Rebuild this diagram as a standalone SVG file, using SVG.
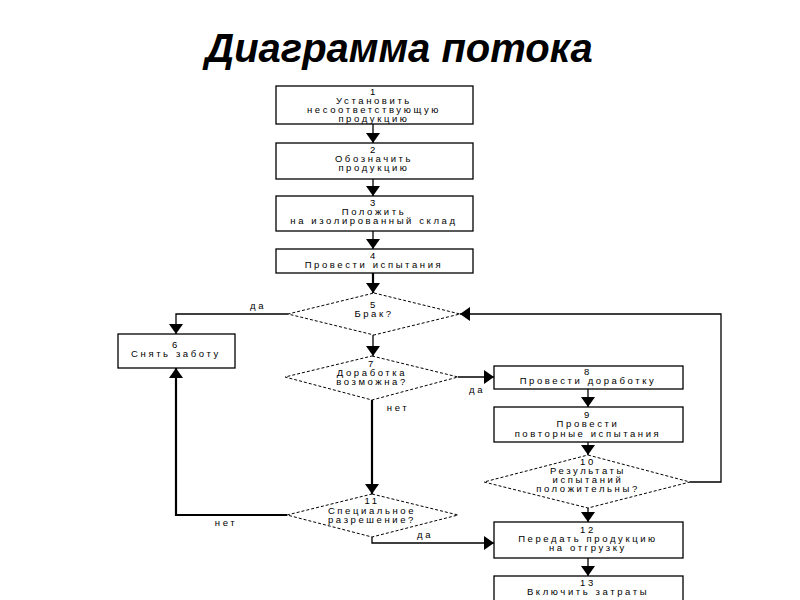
<svg xmlns="http://www.w3.org/2000/svg" width="800" height="600" viewBox="0 0 800 600">
<style>
.title{font-family:"Liberation Sans",Arial,sans-serif;font-weight:bold;font-style:italic;font-size:40px;fill:#000}
.t{font-family:"Liberation Sans",Arial,sans-serif;font-size:9.5px;letter-spacing:2.6px;fill:#000;text-anchor:middle}
.box{fill:#fff;stroke:#000;stroke-width:1.3}
.dia{fill:#fff;stroke:#000;stroke-width:1;stroke-dasharray:3,2}
.c{fill:none;stroke:#000;stroke-width:1.3}
.thick{stroke-width:2.2}
</style>
<defs>
<marker id="ah" viewBox="0 0 10 14" refX="10" refY="7" markerWidth="10" markerHeight="14" markerUnits="userSpaceOnUse" orient="auto">
<path d="M0,0 L10,7 L0,14 Z" fill="#000"/>
</marker>
</defs>
<rect width="800" height="600" fill="#fff"/>
<text class="title" x="399" y="62" text-anchor="middle">Диаграмма потока</text>

<g id="connectors">
<path class="c" d="M373,124 V143" marker-end="url(#ah)"/>
<path class="c" d="M373,179 V196" marker-end="url(#ah)"/>
<path class="c" d="M373,231 V249" marker-end="url(#ah)"/>
<path class="c thick" d="M373,273 V293" marker-end="url(#ah)"/>
<path class="c" d="M288,314 H176 V334" marker-end="url(#ah)"/>
<path class="c" d="M373,335 V356" marker-end="url(#ah)"/>
<path class="c" d="M458,377 H494" marker-end="url(#ah)"/>
<path class="c thick" d="M372,400 V494" marker-end="url(#ah)"/>
<path class="c" d="M588,389 V407" marker-end="url(#ah)"/>
<path class="c" d="M588,442 V455" marker-end="url(#ah)"/>
<path class="c" d="M690,482 H721 V314 H460" marker-end="url(#ah)"/>
<path class="c thick" d="M287,515 H176 V368" marker-end="url(#ah)"/>
<path class="c" d="M372,537 V543 H494" marker-end="url(#ah)"/>
<path class="c" d="M588,508 V522" marker-end="url(#ah)"/>
<path class="c" d="M588,558 V576" marker-end="url(#ah)"/>
<text class="t" x="258" y="309">да</text>
<text class="t" x="477" y="393">да</text>
<text class="t" x="398" y="411">нет</text>
<text class="t" x="226" y="526">нет</text>
<text class="t" x="425" y="538">да</text>
</g>

<g id="n1"><rect class="box" x="276" y="86" width="197" height="38"/>
<text class="t" x="374" y="95">1</text><text class="t" x="374" y="104">Установить</text><text class="t" x="374" y="113">несоответствующую</text><text class="t" x="374" y="122">продукцию</text></g>
<g id="n2"><rect class="box" x="276" y="143" width="197" height="36"/>
<text class="t" x="374" y="153">2</text><text class="t" x="374" y="162">Обозначить</text><text class="t" x="374" y="171">продукцию</text></g>
<g id="n3"><rect class="box" x="276" y="196" width="197" height="35"/>
<text class="t" x="374" y="206">3</text><text class="t" x="374" y="215">Положить</text><text class="t" x="374" y="224">на изолированный склад</text></g>
<g id="n4"><rect class="box" x="276" y="249" width="197" height="24"/>
<text class="t" x="374" y="259">4</text><text class="t" x="374" y="268">Провести испытания</text></g>
<g id="n5"><polygon class="dia" points="374,293 460,314 374,335 288,314"/>
<text class="t" x="374" y="308">5</text><text class="t" x="374" y="317">Брак?</text></g>
<g id="n6"><rect class="box" x="118" y="334" width="117" height="34"/>
<text class="t" x="176" y="348">6</text><text class="t" x="176" y="357">Снять заботу</text></g>
<g id="n7"><polygon class="dia" points="372,356 458,377 372,400 285,377"/>
<text class="t" x="372" y="367">7</text><text class="t" x="372" y="376">Доработка</text><text class="t" x="372" y="385">возможна?</text></g>
<g id="n8"><rect class="box" x="494" y="366" width="189" height="23"/>
<text class="t" x="588" y="375">8</text><text class="t" x="588" y="384">Провести доработку</text></g>
<g id="n9"><rect class="box" x="494" y="407" width="189" height="35"/>
<text class="t" x="588" y="418">9</text><text class="t" x="588" y="427">Провести</text><text class="t" x="588" y="437">повторные испытания</text></g>
<g id="n10"><polygon class="dia" points="588,455 690,482 588,508 484,482"/>
<text class="t" x="588" y="465">10</text><text class="t" x="588" y="474">Результаты</text><text class="t" x="588" y="483">испытаний</text><text class="t" x="588" y="492">положительны?</text></g>
<g id="n11"><polygon class="dia" points="372,494 458,515 372,537 287,515"/>
<text class="t" x="372" y="504">11</text><text class="t" x="372" y="514">Специальное</text><text class="t" x="372" y="523">разрешение?</text></g>
<g id="n12"><rect class="box" x="494" y="522" width="189" height="36"/>
<text class="t" x="588" y="533">12</text><text class="t" x="588" y="542">Передать продукцию</text><text class="t" x="588" y="551">на отгрузку</text></g>
<g id="n13"><rect class="box" x="494" y="576" width="189" height="30"/>
<text class="t" x="588" y="586">13</text><text class="t" x="588" y="595">Включить затраты</text></g>
</svg>
